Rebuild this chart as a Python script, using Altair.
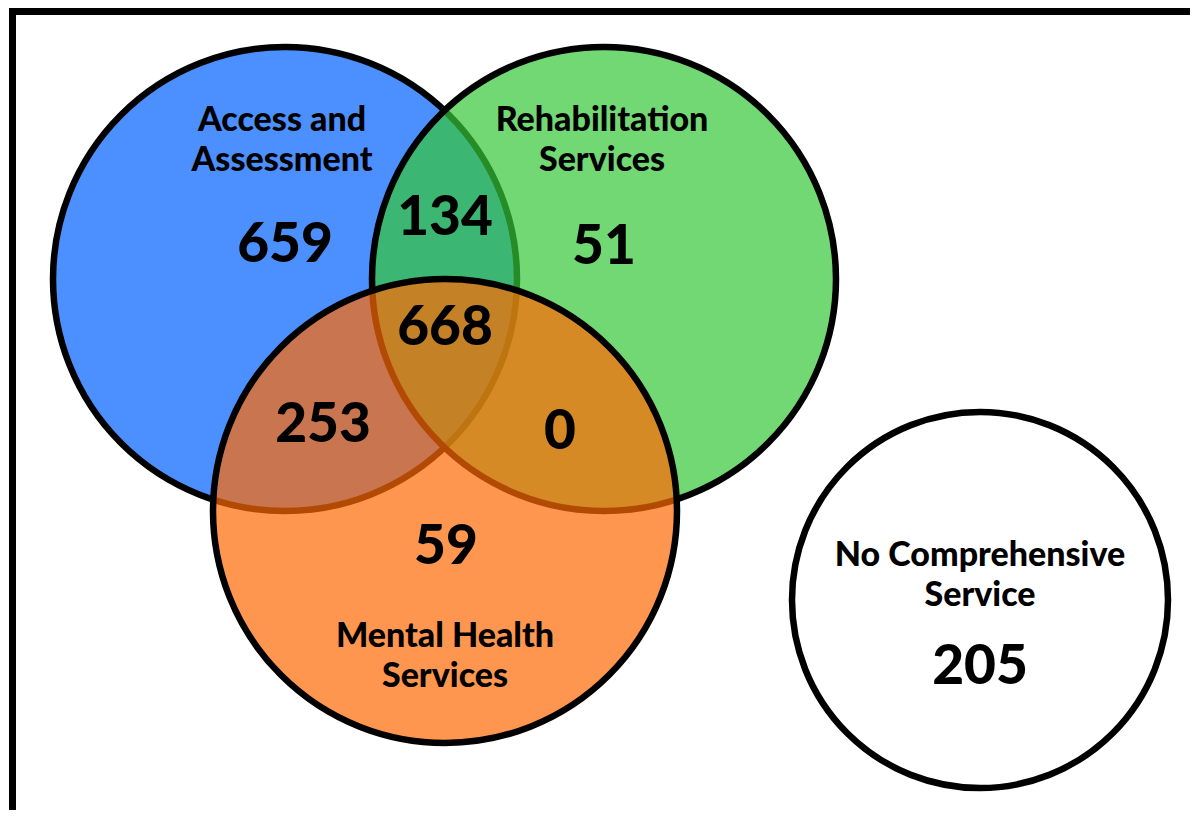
import altair as alt
import pandas as pd

# ---- data ----
set_names = ["Access and Assessment", "Rehabilitation Services", "Mental Health Services", "No Comprehensive Service"]
set_labels = ["Access and\nAssessment", "Rehabilitation\nServices", "Mental Health\nServices", "No Comprehensive\nService"]
region_names = ["Access only", "Access & Rehab", "Rehab only", "All three", "Access & Mental", "Rehab & Mental", "Mental only", "None"]
region_counts = [659, 134, 51, 668, 253, 0, 59, 205]

# ---- layout (page pixel coordinates) ----
circle_cx = [285, 604, 445, 980]
circle_cy = [279, 279, 511, 600]
circle_r = [232, 232, 232, 188]
circle_fill = ["#0060fd", "#36c737", "#ff6905", "#ffffff"]
circle_alpha = [0.7, 0.7, 0.7, 1.0]
label_x = [282, 602, 445, 980]
label_y = [121, 121, 637, 556]
count_x = [285, 445, 604, 445, 323, 560, 446, 980]
count_y = [245, 218, 247, 328, 425, 432, 547, 667]

W, H = 1182, 802
xs = alt.Scale(domain=[8, 8 + W], range=[0, W])
ys = alt.Scale(domain=[8, 8 + H], range=[0, H])

circles = pd.DataFrame({
    "name": set_names,
    "cx": circle_cx, "cy": circle_cy,
    "size": [(2 * r) ** 2 for r in circle_r],
    "fill": circle_fill, "alpha": circle_alpha,
    "order": list(range(4)),
})
labels = pd.DataFrame({"label": set_labels, "x": label_x, "y": label_y})
counts = pd.DataFrame({"region": region_names, "count": region_counts, "x": count_x, "y": count_y})
frame = pd.DataFrame({"x": [12.5], "y": [11.5], "x2": [1215], "y2": [830]})

border = alt.Chart(frame).mark_rect(fill="white", stroke="black", strokeWidth=7, clip=False).encode(
    x=alt.X("x:Q", scale=xs, axis=None),
    y=alt.Y("y:Q", scale=ys, axis=None),
    x2="x2:Q", y2="y2:Q",
)

circ = alt.Chart(circles).mark_point(shape="circle", filled=True, opacity=1, stroke="black",
                                     strokeWidth=6.5, strokeOpacity=1).encode(
    x=alt.X("cx:Q", scale=xs, axis=None),
    y=alt.Y("cy:Q", scale=ys, axis=None),
    size=alt.Size("size:Q", scale=None, legend=None),
    fill=alt.Fill("fill:N", scale=None, legend=None),
    fillOpacity=alt.FillOpacity("alpha:Q", scale=None, legend=None),
    order=alt.Order("order:Q"),
)

lab = alt.Chart(labels).mark_text(font="Lato", fontWeight=900, fontSize=34, lineBreak="\n",
                                  lineHeight=40, align="center", baseline="middle", color="black").encode(
    x=alt.X("x:Q", scale=xs, axis=None),
    y=alt.Y("y:Q", scale=ys, axis=None),
    text="label:N",
)

cnt = alt.Chart(counts).mark_text(font="Lato", fontWeight=900, fontSize=55, align="center",
                                  baseline="middle", color="black").encode(
    x=alt.X("x:Q", scale=xs, axis=None),
    y=alt.Y("y:Q", scale=ys, axis=None),
    text="count:Q",
)

chart = alt.layer(border, circ, lab, cnt).properties(
    width=W, height=H, padding=0, autosize=alt.AutoSizeParams(type="none")
).configure_view(stroke=None)

chart.save("out.html", embed_options={"renderer": "svg", "actions": False})
